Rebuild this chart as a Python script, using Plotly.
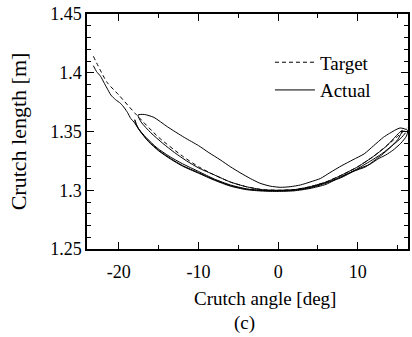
import plotly.graph_objects as go

# Target trajectory (dashed)
target_x = [-23.2, -21.5, -20.0, -17.9, -15.0, -12.0, -10.0, -8.0, -6.0, -4.0, -2.0, 0.0,
            2.0, 4.0, 6.0, 8.0, 10.0, 12.0, 14.0, 16.2]
target_y = [1.414, 1.392, 1.381, 1.365, 1.345, 1.329, 1.320, 1.313, 1.307, 1.303, 1.3005, 1.300,
            1.3005, 1.303, 1.307, 1.313, 1.320, 1.329, 1.340, 1.353]

# Actual trajectory (solid), read along the path
actual_x = [-23.2, -22.8, -22.3, -21.9, -21.5, -21.0, -20.4, -19.8, -19.3, -18.9, -18.5, -18.1,
            -17.3, -16.3, -15.0, -13.5, -12.0, -10.0, -8.0, -6.0, -4.0, -2.0, 0.0, 2.0, 4.0,
            6.0, 8.0, 10.0, 11.5, 12.5, 13.5, 14.4, 15.4, 16.1,
            16.25, 15.3, 14.0, 13.2, 12.0, 10.8, 9.4, 8.0, 6.5, 5.3, 4.0, 2.8, 1.5, 0.25,
            -1.0, -2.3, -3.5, -4.8, -6.0, -7.3, -8.7, -10.0, -11.8, -13.9, -15.6, -16.8, -17.6,
            -17.2, -16.0, -14.5, -13.0, -11.5, -10.0, -8.0, -6.0, -4.0, -2.0, 0.0, 2.0, 4.0,
            6.0, 8.0, 10.0, 12.0, 13.5, 14.5, 15.2, 15.6,
            15.0, 14.0, 13.0, 12.2, 11.0, 9.4, 8.0,
            6.0, 4.0, 2.0, 0.0, -2.0, -4.0, -6.0, -8.0, -10.0, -12.0, -13.5, -15.0, -16.3,
            -17.3, -17.9, -18.0,
            -17.6, -16.6, -15.2, -13.7, -12.0, -10.0, -8.0, -6.0, -4.0, -2.0, 0.0, 2.0, 4.0,
            6.0, 8.0, 10.0, 11.5, 13.0, 14.5, 15.5, 16.0]
actual_y = [1.406, 1.401, 1.397, 1.392, 1.387, 1.381, 1.377, 1.374, 1.370, 1.366, 1.361, 1.358,
            1.350, 1.342, 1.334, 1.327, 1.321, 1.315, 1.309, 1.304, 1.301, 1.2998, 1.2997, 1.3002, 1.302,
            1.306, 1.311, 1.318, 1.322, 1.3265, 1.330, 1.334, 1.340, 1.346,
            1.351, 1.353, 1.3485, 1.345, 1.338, 1.331, 1.326, 1.321, 1.315, 1.310, 1.307, 1.3045, 1.303, 1.3025,
            1.3035, 1.306, 1.310, 1.315, 1.320, 1.326, 1.332, 1.338, 1.345, 1.354, 1.362, 1.3645, 1.364,
            1.358, 1.349, 1.340, 1.332, 1.325, 1.319, 1.313, 1.307, 1.303, 1.3005, 1.300, 1.3005, 1.303,
            1.307, 1.313, 1.320, 1.329, 1.337, 1.344, 1.349, 1.351,
            1.343, 1.336, 1.330, 1.326, 1.320, 1.316, 1.312,
            1.305, 1.3015, 1.2995, 1.299, 1.2993, 1.3005, 1.3035, 1.3085, 1.3145, 1.3205, 1.3265, 1.3335, 1.3415,
            1.350, 1.357, 1.360,
            1.353, 1.345, 1.336, 1.329, 1.3225, 1.316, 1.3095, 1.3045, 1.3012, 1.2998, 1.2995, 1.300, 1.3025,
            1.3065, 1.3115, 1.3185, 1.3245, 1.331, 1.339, 1.345, 1.349]

x_ticks = [-20, -10, 0, 10]
y_ticks = [1.25, 1.3, 1.35, 1.4, 1.45]
y_tick_text = ["1.25", "1.3", "1.35", "1.4", "1.45"]

FONT = "Liberation Serif, Times New Roman, serif"

fig = go.Figure()
fig.add_trace(go.Scatter(x=target_x, y=target_y, mode="lines", name="Target",
                         line=dict(color="black", width=1, dash="4px,3px", shape="spline", smoothing=0.6)))
fig.add_trace(go.Scatter(x=actual_x, y=actual_y, mode="lines", name="Actual",
                         line=dict(color="black", width=1, shape="spline", smoothing=0.6)))

axis_common = dict(showgrid=False, zeroline=False, showline=True, linecolor="black", linewidth=1.5,
                   ticks="inside", ticklen=7, tickwidth=1.3, tickcolor="black", mirror="ticks",
                   tickfont=dict(family=FONT, size=18, color="black"))

fig.update_xaxes(range=[-24.0, 16.3], tickvals=x_ticks, ticktext=[str(v) for v in x_ticks],
                 minor=dict(dtick=5, tick0=0, ticks="inside", ticklen=4, tickwidth=1, tickcolor="black"),
                 ticklabelstandoff=6,
                 **axis_common)
fig.update_yaxes(range=[1.25, 1.45], tickvals=y_ticks, ticktext=y_tick_text,
                 minor=dict(dtick=0.01, tick0=1.25, ticks="inside", ticklen=4, tickwidth=1, tickcolor="black"),
                 title=dict(text="Crutch length [m]", font=dict(family=FONT, size=22, color="black"), standoff=17),
                 **axis_common)

fig.update_layout(
    width=412, height=337,
    margin=dict(l=87, r=4, t=14, b=88, autoexpand=False),
    paper_bgcolor="white", plot_bgcolor="white",
    font=dict(family=FONT, color="black"),
    showlegend=True,
    legend=dict(x=0.57, y=0.875, xanchor="left", yanchor="top", bgcolor="rgba(0,0,0,0)",
                font=dict(family=FONT, size=19, color="black"), itemwidth=40, tracegroupgap=0),
    annotations=[
        dict(text="Crutch angle [deg]", xref="paper", yref="paper", x=(265 - 87) / 321, y=-(298 - 249) / 235,
             xanchor="center", yanchor="middle", showarrow=False, font=dict(family=FONT, size=19, color="black")),
        dict(text="(c)", xref="paper", yref="paper", x=(244 - 87) / 321, y=-(323 - 249) / 235,
             xanchor="center", yanchor="middle", showarrow=False, font=dict(family=FONT, size=19, color="black")),
    ],
)

fig.write_html("out.html", config={"displayModeBar": False},
               post_script="document.body.style.margin='0';document.body.style.overflow='hidden';")
